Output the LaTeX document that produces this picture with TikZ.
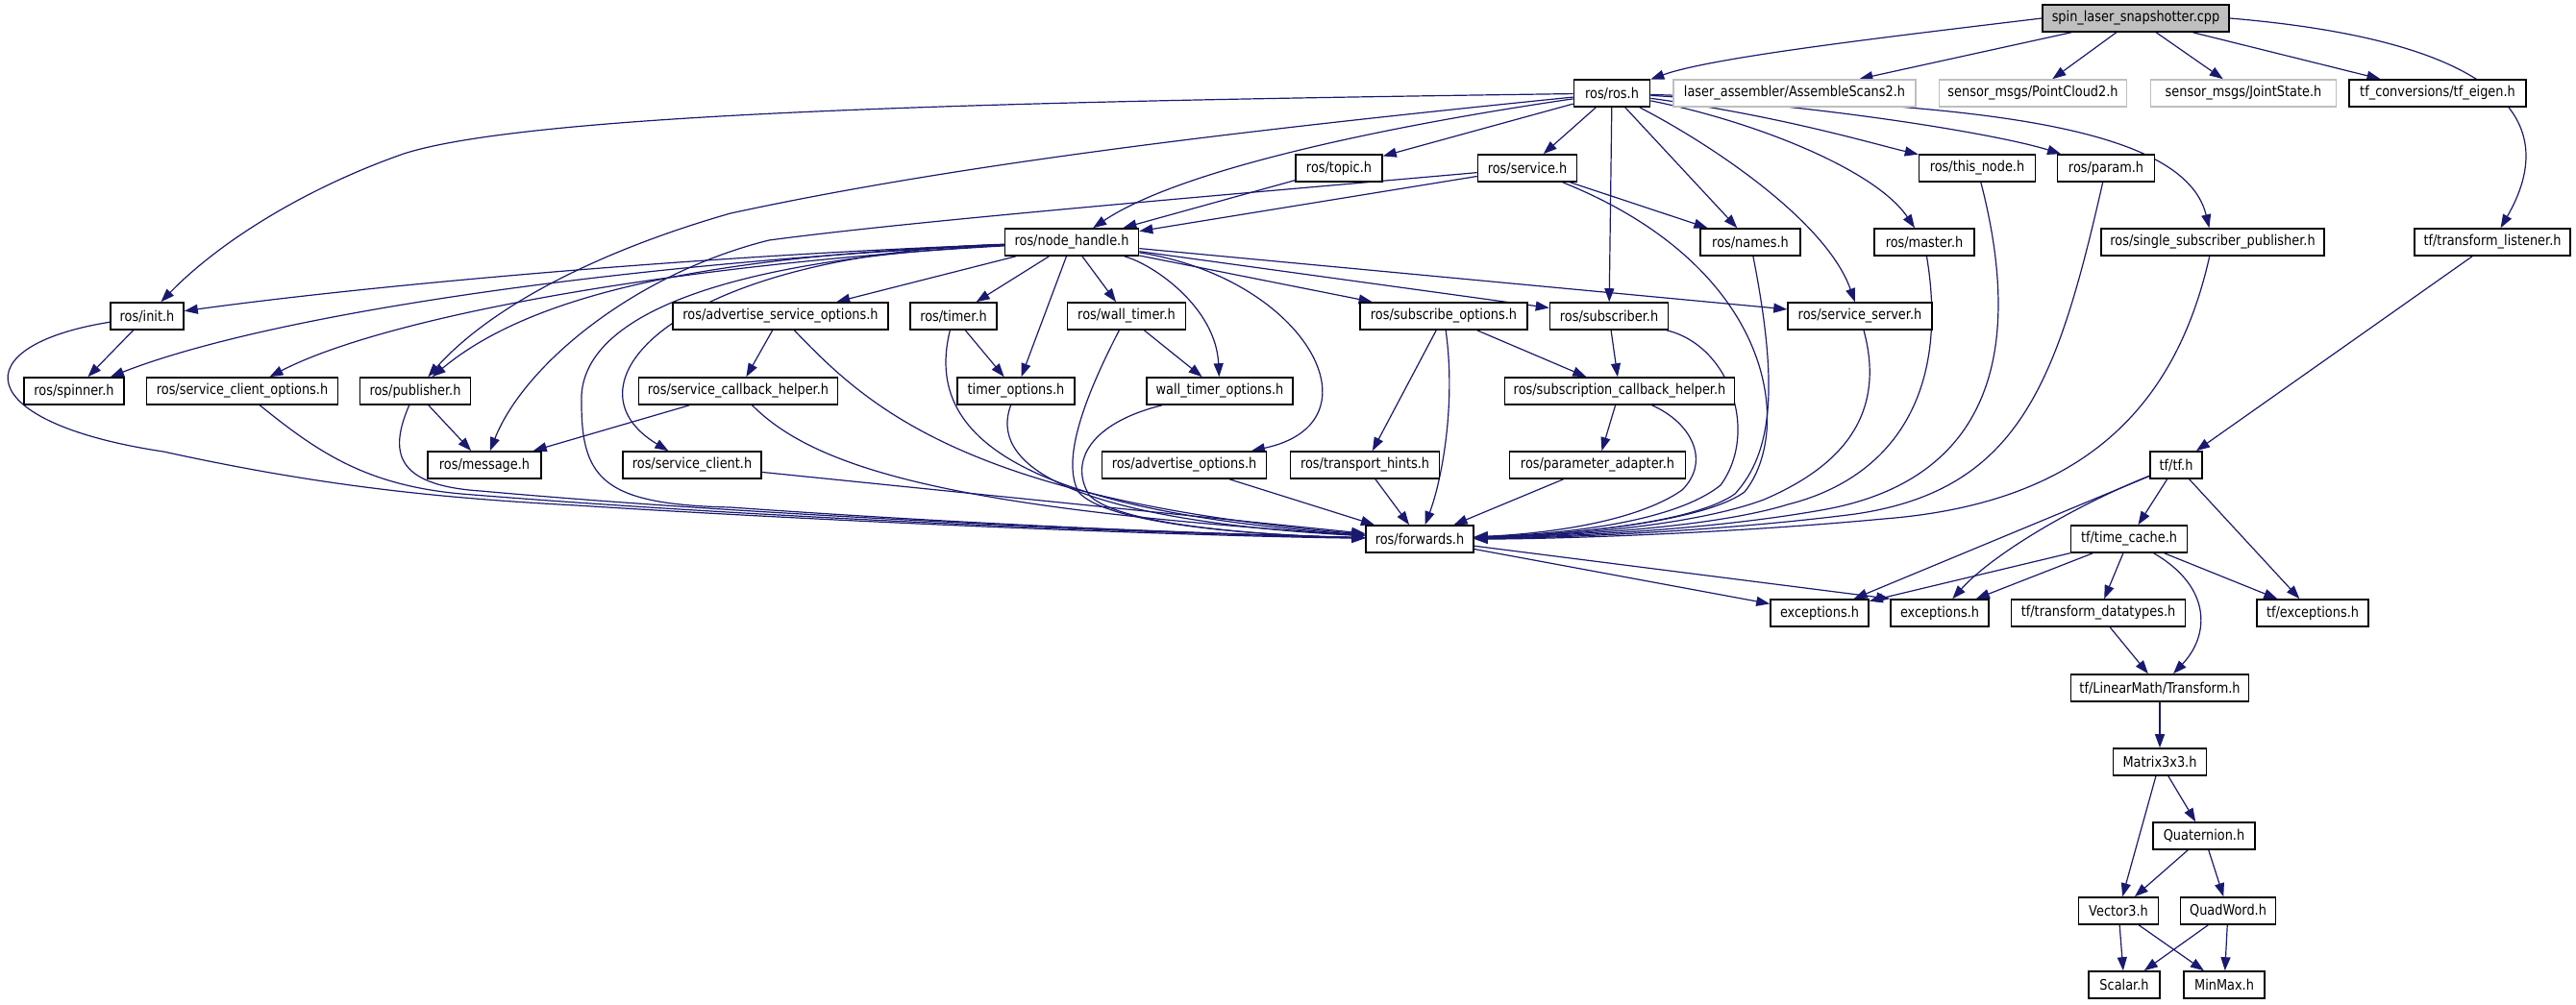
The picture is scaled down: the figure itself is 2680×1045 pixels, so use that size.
\documentclass[tikz,border=0pt]{standalone}
\usepackage{fontspec}
\newfontfamily\nodefont{DejaVu Sans}[FakeStretch=0.86]
\usetikzlibrary{arrows.meta}
\pgfdeclarelayer{edgelayer}
\pgfsetlayers{edgelayer,main}
\definecolor{edgec}{HTML}{191970}
\definecolor{grayb}{HTML}{BFBFBF}
\tikzset{
  hnode/.style={draw=black, line width=0.8pt, fill=white, minimum height=14pt, inner sep=0pt, font=\nodefont\fontsize{7.5}{9}\selectfont},
  gnode/.style={hnode, draw=grayb},
  rootnode/.style={hnode, fill=grayb},
  edge/.style={draw=edgec, line width=0.6pt, -{Triangle[length=7pt,width=5pt]}},
}
\begin{document}
\begin{tikzpicture}[x=0.5pt, y=-0.5pt]
\useasboundingbox (0,0) rectangle (2680,1045);
% row 0
\node[rootnode, minimum width=97pt] (spin) at (2222,19) {spin\_laser\_snapshotter.cpp};
% row 1
\node[hnode, minimum width=39.5pt] (rosh) at (1677,97) {ros/ros.h};
\node[gnode, minimum width=126pt] (laser) at (1867,97) {laser\_assembler/AssembleScans2.h};
\node[gnode, minimum width=97.5pt] (pc2) at (2115,97) {sensor\_msgs/PointCloud2.h};
\node[gnode, minimum width=96.5pt] (js) at (2334,97) {sensor\_msgs/JointState.h};
\node[hnode, minimum width=92pt] (tfconv) at (2536,97) {tf\_conversions/tf\_eigen.h};
% row 2
\node[hnode, minimum width=45pt] (topic) at (1393,175) {ros/topic.h};
\node[hnode, minimum width=51.5pt] (service) at (1589,175) {ros/service.h};
\node[hnode, minimum width=60.5pt] (thisnode) at (2057,175) {ros/this\_node.h};
\node[hnode, minimum width=50.5pt] (param) at (2191,175) {ros/param.h};
% row 3
\node[hnode, minimum width=69.5pt] (nh) at (1115,252) {ros/node\_handle.h};
\node[hnode, minimum width=52pt] (names) at (1821,252) {ros/names.h};
\node[hnode, minimum width=52pt] (master) at (2002,252) {ros/master.h};
\node[hnode, minimum width=116pt] (single) at (2302,252) {ros/single\_subscriber\_publisher.h};
\node[hnode, minimum width=81pt] (tl) at (2593,252) {tf/transform\_listener.h};
% row 4
\node[hnode, minimum width=38pt] (init) at (153,329) {ros/init.h};
\node[hnode, minimum width=112pt] (aso) at (812,329) {ros/advertise\_service\_options.h};
\node[hnode, minimum width=45pt] (timer) at (992,329) {ros/timer.h};
\node[hnode, minimum width=61.5pt] (walltimer) at (1172,329) {ros/wall\_timer.h};
\node[hnode, minimum width=87pt] (subopt) at (1502,329) {ros/subscribe\_options.h};
\node[hnode, minimum width=61.5pt] (subscriber) at (1674,329) {ros/subscriber.h};
\node[hnode, minimum width=75pt] (sserver) at (1935,329) {ros/service\_server.h};
% row 5
\node[hnode, minimum width=52pt] (spinner) at (77,407) {ros/spinner.h};
\node[hnode, minimum width=99.5pt] (sco) at (252,407) {ros/service\_client\_options.h};
\node[hnode, minimum width=57.5pt] (publisher) at (432,407) {ros/publisher.h};
\node[hnode, minimum width=103.5pt] (sch) at (768,407) {ros/service\_callback\_helper.h};
\node[hnode, minimum width=61pt] (timeropt) at (1057,407) {timer\_options.h};
\node[hnode, minimum width=76pt] (wto) at (1269,407) {wall\_timer\_options.h};
\node[hnode, minimum width=119.5pt] (sbch) at (1685,407) {ros/subscription\_callback\_helper.h};
% row 6
\node[hnode, minimum width=59pt] (message) at (504,484) {ros/message.h};
\node[hnode, minimum width=72pt] (sclient) at (720,484) {ros/service\_client.h};
\node[hnode, minimum width=85.5pt] (advopt) at (1232,484) {ros/advertise\_options.h};
\node[hnode, minimum width=77.5pt] (thints) at (1420,484) {ros/transport\_hints.h};
\node[hnode, minimum width=91.5pt] (padapter) at (1662,484) {ros/parameter\_adapter.h};
\node[hnode, minimum width=27pt] (tftf) at (2264,484) {tf/tf.h};
% row 7
\node[hnode, minimum width=56pt] (forwards) at (1477,561) {ros/forwards.h};
\node[hnode, minimum width=60.5pt] (timecache) at (2215,561) {tf/time\_cache.h};
% row 8
\node[hnode, minimum width=51pt] (exca) at (1893,638) {exceptions.h};
\node[hnode, minimum width=51pt] (excb) at (2018,638) {exceptions.h};
\node[hnode, minimum width=90.5pt] (tdt) at (2183,638) {tf/transform\_datatypes.h};
\node[hnode, minimum width=58pt] (tfexc) at (2406,638) {tf/exceptions.h};
% rows 9-13
\node[hnode, minimum width=92.5pt] (transform) at (2247,716) {tf/LinearMath/Transform.h};
\node[hnode, minimum width=48.5pt] (matrix) at (2247,793) {Matrix3x3.h};
\node[hnode, minimum width=53pt] (quat) at (2293,870) {Quaternion.h};
\node[hnode, minimum width=41.5pt] (vector) at (2204,948) {Vector3.h};
\node[hnode, minimum width=49.5pt] (quadword) at (2318,948) {QuadWord.h};
\node[hnode, minimum width=37pt] (scalar) at (2210,1025) {Scalar.h};
\node[hnode, minimum width=42pt] (minmax) at (2314,1025) {MinMax.h};

\begin{pgfonlayer}{edgelayer}
% ---- edges from root
\draw[edge] (spin.west) .. controls (1950,40) and (1780,60) .. (rosh);
\draw[edge] (spin) -- (laser);
\draw[edge] (spin) -- (pc2);
\draw[edge] (spin) -- (js);
\draw[edge] (spin) -- (tfconv);
\draw[edge] (spin.east) .. controls (2570,40) and (2675,110) .. (tl);

% ---- edges from ros.h
\draw[edge] (rosh) .. controls (1100,105) and (560,115) .. (420,160) .. controls (320,195) and (230,250) .. (init);
\draw[edge] (rosh) .. controls (1300,135) and (1000,170) .. (760,222) .. controls (620,262) and (510,320) .. (publisher);
\draw[edge] (rosh) -- (topic);
\draw[edge] (rosh) .. controls (1450,130) and (1230,175) .. (nh);
\draw[edge] (rosh) -- (service);
\draw[edge] (rosh) -- (subscriber);
\draw[edge] (rosh) -- (names);
\draw[edge] (rosh) .. controls (1820,125) and (1950,175) .. (master);
\draw[edge] (rosh) .. controls (1780,150) and (1900,230) .. (sserver);
\draw[edge] (rosh) .. controls (1850,120) and (1950,150) .. (thisnode);
\draw[edge] (rosh) .. controls (1900,110) and (2080,140) .. (param);
\draw[edge] (rosh) .. controls (2000,108) and (2270,120) .. (single);

% ---- topic, service
\draw[edge] (topic) -- (nh);
\draw[edge] (service) -- (nh);
\draw[edge] (service) .. controls (1250,205) and (950,230) .. (800,250) .. controls (660,285) and (545,380) .. (message);
\draw[edge] (service) -- (names);
\draw[edge] (service) .. controls (1850,280) and (1865,450) .. (1815,512) .. controls (1770,545) and (1620,557) .. (forwards);

% ---- node_handle
\draw[edge] (nh) .. controls (750,265) and (400,295) .. (init);
\draw[edge] (nh) .. controls (700,270) and (300,320) .. (spinner);
\draw[edge] (nh) .. controls (700,275) and (400,330) .. (sco);
\draw[edge] (nh) .. controls (760,265) and (560,300) .. (publisher);
\draw[edge] (nh) .. controls (700,265) and (580,400) .. (sclient);
\draw[edge] (nh) .. controls (750,270) and (600,330) .. (605,420) .. controls (605,500) and (630,525) .. (760,528) .. controls (1000,545) and (1250,556) .. (forwards);
\draw[edge] (nh) -- (aso);
\draw[edge] (nh) -- (timer);
\draw[edge] (nh) -- (timeropt);
\draw[edge] (nh) -- (walltimer);
\draw[edge] (nh) .. controls (1200,275) and (1265,320) .. (wto);
\draw[edge] (nh) .. controls (1360,290) and (1440,440) .. (advopt);
\draw[edge] (nh) -- (subopt);
\draw[edge] (nh) -- (subscriber);
\draw[edge] (nh) -- (sserver);

% ---- left side into forwards
\draw[edge] (init) -- (spinner);
\draw[edge] (init) .. controls (-40,360) and (-30,440) .. (170,470) .. controls (330,505) and (450,518) .. (600,526) .. controls (900,545) and (1250,558) .. (forwards);
\draw[edge] (sco) .. controls (330,470) and (380,505) .. (480,514) .. controls (800,540) and (1200,555) .. (forwards);
\draw[edge] (publisher) -- (message);
\draw[edge] (publisher) .. controls (405,470) and (410,505) .. (500,511) .. controls (800,538) and (1200,554) .. (forwards);
\draw[edge] (aso) -- (sch);
\draw[edge] (aso) .. controls (900,420) and (1000,520) .. (forwards);
\draw[edge] (sch) -- (message);
\draw[edge] (sch) .. controls (850,490) and (1000,530) .. (forwards);
\draw[edge] (sclient) -- (forwards);
\draw[edge] (timer) -- (timeropt);
\draw[edge] (timer) .. controls (962,450) and (1050,530) .. (forwards);
\draw[edge] (timeropt) .. controls (1030,480) and (1100,540) .. (forwards);
\draw[edge] (walltimer) -- (wto);
\draw[edge] (walltimer) .. controls (1125,420) and (1105,480) .. (1122,512) .. controls (1150,545) and (1300,557) .. (forwards);
\draw[edge] (wto) .. controls (1135,440) and (1112,480) .. (1133,515) .. controls (1160,545) and (1300,557) .. (forwards);
\draw[edge] (advopt) -- (forwards);
\draw[edge] (subopt) -- (thints);
\draw[edge] (subopt) -- (sbch);
\draw[edge] (subopt) .. controls (1515,420) and (1500,500) .. (forwards);
\draw[edge] (thints) -- (forwards);

% ---- right side into forwards
\draw[edge] (subscriber) .. controls (1800,360) and (1830,450) .. (1790,505) .. controls (1740,545) and (1620,556) .. (forwards);
\draw[edge] (subscriber) -- (sbch);
\draw[edge] (sbch) -- (padapter);
\draw[edge] (sbch) .. controls (1760,440) and (1780,480) .. (1750,510) .. controls (1700,545) and (1600,556) .. (forwards);
\draw[edge] (padapter) -- (forwards);
\draw[edge] (names) .. controls (1850,400) and (1845,470) .. (1805,514) .. controls (1760,546) and (1620,557) .. (forwards);
\draw[edge] (sserver) .. controls (1965,440) and (1905,490) .. (1835,520) .. controls (1760,548) and (1620,558) .. (forwards);
\draw[edge] (master) .. controls (2030,420) and (1960,500) .. (1860,525) .. controls (1780,550) and (1620,558) .. (forwards);
\draw[edge] (thisnode) .. controls (2110,380) and (2060,500) .. (1900,530) .. controls (1780,552) and (1620,559) .. (forwards);
\draw[edge] (param) .. controls (2140,400) and (2100,510) .. (1930,535) .. controls (1790,553) and (1620,560) .. (forwards);
\draw[edge] (single) .. controls (2260,440) and (2150,525) .. (1960,540) .. controls (1800,555) and (1620,561) .. (forwards);

% ---- forwards and tf
\draw[edge] (forwards) -- (exca);
\draw[edge] (forwards) -- (excb.north west);
\draw[edge] (tl) -- (tftf);
\draw[edge] (tftf) -- (exca);
\draw[edge] (tftf) .. controls (2150,530) and (2070,580) .. (excb);
\draw[edge] (tftf) -- (timecache);
\draw[edge] (tftf) -- (tfexc);
\draw[edge] (timecache) -- (exca);
\draw[edge] (timecache) -- (excb);
\draw[edge] (timecache) -- (tdt);
\draw[edge] (timecache) -- (tfexc);
\draw[edge] (timecache) .. controls (2300,610) and (2300,660) .. (transform);
\draw[edge] (tdt) -- (transform);
\draw[edge] (transform) -- (matrix);
\draw[edge] (matrix) -- (vector);
\draw[edge] (matrix) -- (quat);
\draw[edge] (quat) -- (vector);
\draw[edge] (quat) -- (quadword);
\draw[edge] (vector) -- (scalar);
\draw[edge] (vector) -- (minmax);
\draw[edge] (quadword) -- (scalar);
\draw[edge] (quadword) -- (minmax);
\end{pgfonlayer}
\end{tikzpicture}
\end{document}
